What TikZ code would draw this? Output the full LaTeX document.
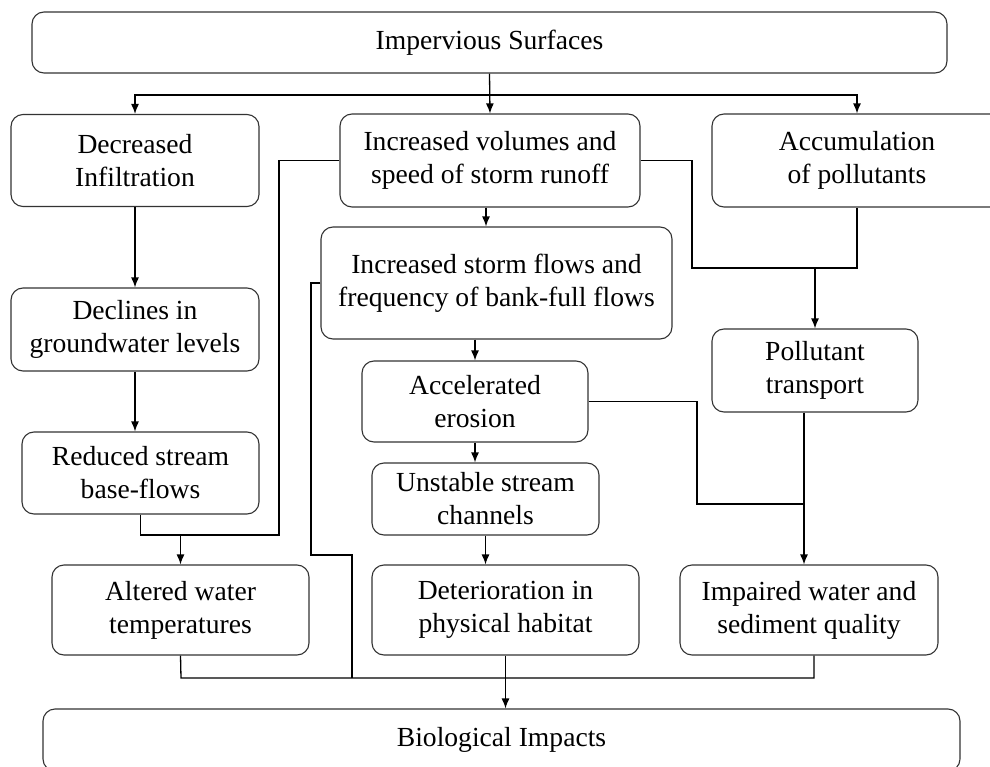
\documentclass[tikz,border=0pt]{standalone}
\usepackage{fontspec}
\setmainfont{Liberation Serif}
\usetikzlibrary{arrows.meta}
\begin{document}
\begin{tikzpicture}[x=1pt,y=-1pt,
  box/.style={draw=black!80, line width=1.1pt, rounded corners=12pt, align=center,
              inner sep=0pt, font=\fontsize{27.6}{33}\selectfont},
  conn/.style={draw=black, line width=1.3pt},
  arr/.style={conn, -{Latex[length=10pt,width=8pt]}}]
\useasboundingbox (0,0) rectangle (990,767);
\clip (0,0) rectangle (990,767);

% boxes
\node[box, minimum width=915pt, minimum height=61pt] (imp) at (489.5,42.5) {Impervious Surfaces};
\node[box, minimum width=248pt, minimum height=92pt] (dec) at (135,160.5) {Decreased\\Infiltration};
\node[box, minimum width=300pt, minimum height=93pt] (vol) at (490,160.5) {Increased volumes and\\speed of storm runoff};
\node[box, minimum width=290pt, minimum height=93pt] (acc) at (857,160.5) {Accumulation\\of pollutants};
\node[box, minimum width=351pt, minimum height=112pt] (storm) at (496.5,283) {Increased storm flows and\\frequency of bank-full flows};
\node[box, minimum width=248pt, minimum height=83pt] (decl) at (135,329.5) {Declines in\\groundwater levels};
\node[box, minimum width=206pt, minimum height=83pt] (poll) at (815,370.5) {Pollutant\\transport};
\node[box, minimum width=226pt, minimum height=81pt] (eros) at (475,401.5) {Accelerated\\erosion};
\node[box, minimum width=237pt, minimum height=82pt] (red) at (140.5,473) {Reduced stream\\base-flows};
\node[box, minimum width=227pt, minimum height=72pt] (unst) at (485.5,499) {Unstable stream\\channels};
\node[box, minimum width=257pt, minimum height=90pt] (alt) at (180.5,610) {Altered water\\temperatures};
\node[box, minimum width=267pt, minimum height=90pt] (det) at (505.5,610) {Deterioration in\\physical habitat};
\node[box, minimum width=258pt, minimum height=90pt] (impw) at (809,610) {Impaired water and\\sediment quality};
\node[box, minimum width=917pt, minimum height=62pt] (bio) at (501.5,740) {Biological Impacts};

% junction points
\coordinate (bj) at (489.5,95);
\coordinate (j1) at (279,535);
\coordinate (j2) at (692,268);
\coordinate (j3) at (311,555);
\coordinate (j4) at (352,678);
\coordinate (j5) at (697,504);
\coordinate (j6) at (804,504);
\coordinate (j7) at (181,678);

% top branching
\draw[arr] (imp.south) -- (vol.north);
\draw[arr] (bj) -| (dec.north);
\draw[arr] (bj) -| (acc.north);

% left column
\draw[arr] (dec.south) -- (decl.north);
\draw[arr] (decl.south) -- (decl.south |- red.north);
\draw[conn] (red.south) |- (j1) |- (vol.west);
\draw[arr] (alt.north |- j1) -- (alt.north);

% middle column
\draw[arr] ([xshift=-4pt]vol.south) -- ([xshift=-4pt]vol.south |- storm.north);
\draw[arr] (storm.south -| eros.north) -- (eros.north);
\draw[arr] (eros.south) -- (eros.south |- unst.north);
\draw[arr] (unst.south) -- (unst.south |- det.north);
\draw[conn] (storm.west) -| (j3) -| (j4);

% right column
\draw[conn] (vol.east) -| (j2) -- (j2 -| acc.south) -- (acc.south);
\draw[arr] (poll.north |- j2) -- (poll.north);
\draw[arr] ([xshift=-11pt]poll.south) -- ([xshift=-11pt]poll.south |- impw.north);
\draw[conn] (eros.east) -| (j5) -- (j6);

% bottom collector
\draw[conn] (alt.south) -- (j7) -- ([xshift=5pt]impw.south |- j7) -- ([xshift=5pt]impw.south);
\draw[arr] (det.south) -- (det.south |- bio.north);
\end{tikzpicture}
\end{document}
